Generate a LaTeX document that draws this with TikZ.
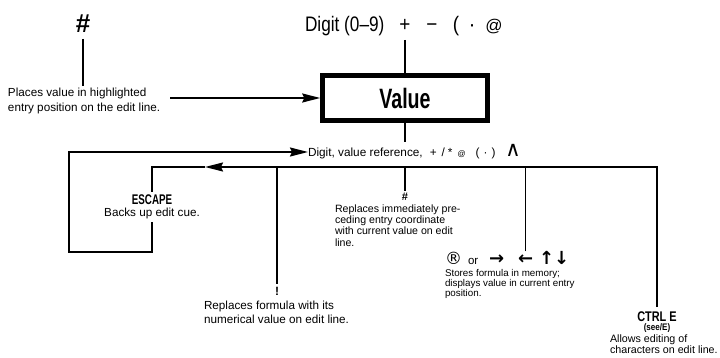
\documentclass[tikz,border=0pt]{standalone}
\usepackage{fontspec}
\usepackage{graphicx}
\setmainfont{Liberation Sans}
\newfontfamily\djv{DejaVu Sans}
\usetikzlibrary{arrows.meta}
\newcommand{\fsz}[2]{\fontsize{#1}{#2}\selectfont}
\newcommand{\cnd}[2]{\scalebox{#1}[1]{#2}}
\begin{document}
\begin{tikzpicture}[x=1pt,y=-1pt,
  lbl/.style={inner sep=0pt, outer sep=0pt},
  wire/.style={line width=1.6pt},
  arr/.style={wire,-{Stealth[length=18pt,width=9pt,inset=2pt]}},
  valbox/.style={draw, line width=4.5pt, minimum width=165pt, minimum height=45pt, inner sep=0pt},
  bigarr/.style={lbl, anchor=base west, font=\djv\bfseries\fsz{18}{18}},
  ]
\useasboundingbox (0,0) rectangle (720,358);

% top left
\node[lbl, anchor=base, font=\fsz{26}{28}\bfseries] (hashtop) at (83,33) {\#};
\node[lbl, anchor=base west, align=left, font=\fsz{11.7}{14.5}] (places) at (8,111.5)
  {Places value in highlighted\\entry position on the edit line.};
\node[valbox] (value) at (405,98) {\cnd{0.7}{\fsz{28}{30}\bfseries Value}};

% top row
\node[lbl, anchor=base west, font=\fsz{21}{24}] (digtop) at (305,32) {\cnd{0.82}{Digit (0–9)}};
\node[lbl, anchor=base, font=\fsz{21}{24}] (plus) at (405,32) {\cnd{0.9}{+}};
\node[lbl, anchor=base, font=\fsz{21}{24}] (minus) at (432,32) {\cnd{0.9}{−}};
\node[lbl, anchor=base, font=\fsz{21}{24}] (lpar) at (456,32) {\cnd{0.9}{(}};
\node[lbl, anchor=base, font=\fsz{21}{24}] (cdot) at (472,32) {·};
\node[lbl, anchor=base, font=\fsz{17}{20}] (atsym) at (494,32) {@};

% middle line
\node[lbl, anchor=base west, font=\fsz{11.8}{13}] (ops) at (308,157)
  {Digit, value reference,\hspace{7pt}+\hspace{5pt}/\hspace{3pt}*\hspace{5pt}{\fsz{8}{9}@}\hspace{10pt}(\hspace{4pt}·\hspace{4pt})\hspace{10pt}{\djv\fsz{21}{21}∧}};

% lower labels
\node[lbl, anchor=base, font=\bfseries\fsz{14}{14}] (escape) at (152,205) {\cnd{0.7}{ESCAPE}};
\node[lbl, anchor=base, font=\fsz{11.7}{12}] (escapetxt) at (152,217) {Backs up edit cue.};
\node[lbl, anchor=base, font=\fsz{12}{12}\bfseries] (bang) at (277,295) {!};
\node[lbl, anchor=base west, align=left, font=\fsz{11.7}{14}] (bangtxt) at (204,323)
  {Replaces formula with its\\numerical value on edit line.};
\node[lbl, anchor=base, font=\fsz{11}{11}\bfseries] (hashbot) at (405,201) {\#};
\node[lbl, anchor=base west, align=left, font=\fsz{10.6}{11.5}] (hashtxt) at (335,246.5)
  {Replaces immediately pre-\\ceding entry coordinate\\with current value on edit\\line.};
\node[lbl, anchor=base west, font=\djv\fsz{17}{17}] (regsym) at (445,264) {®};
\node[lbl, anchor=base west, font=\fsz{11.5}{12}] (regor) at (468,264) {or};
\node[bigarr] (rarr) at (489,264) {→};
\node[bigarr] (larr) at (518,264) {←};
\node[bigarr] (uarr) at (539,264) {↑};
\node[bigarr] (darr) at (554,264) {↓};
\node[lbl, anchor=base west, align=left, font=\fsz{9.8}{10}] (regtxt) at (445,296)
  {Stores formula in memory;\\displays value in current entry\\position.};
\node[lbl, anchor=base, font=\bfseries\fsz{14}{14}] (ctrle) at (657,321) {\cnd{0.78}{CTRL E}};
\node[lbl, anchor=base, font=\bfseries\fsz{9.5}{9.5}] (ctrlsee) at (657,330) {\cnd{0.85}{(see/E)}};
\node[lbl, anchor=base west, align=left, font=\fsz{10.7}{11}] (ctrltxt) at (610,353)
  {Allows editing of\\characters on edit line.};

\coordinate (loopTL) at (69,152);
\coordinate (loopBL) at (69,252);
\coordinate (busL) at (205,167);

% connectors
\draw[wire, shorten <=6pt, shorten >=3pt] (hashtop.south) -- (hashtop.south |- places.north);
\draw[arr] ([xshift=10pt]places.east |- value.west) -- (value.west);
\draw[wire, shorten <=8pt] (plus.south) -- (value.north);
\draw[wire, shorten >=3pt] (value.south) -- (value.south |- ops.north);
\draw[arr, shorten <=4pt] (ctrle.north) |- (busL);
\draw[wire, shorten >=3pt] (busL) -| (escape.north);
\draw[arr, shorten <=3pt] (escapetxt.south) |- (loopBL) -- (loopTL) -- (loopTL -| ops.west);
\draw[wire, shorten <=3pt] (bang.north) -- (bang.north |- busL);
\draw[wire, shorten <=3pt] (hashbot.north) -- (hashbot.north |- busL);
\draw[wire, shorten <=3pt] (larr.north) -- (larr.north |- busL);
\end{tikzpicture}
\end{document}
